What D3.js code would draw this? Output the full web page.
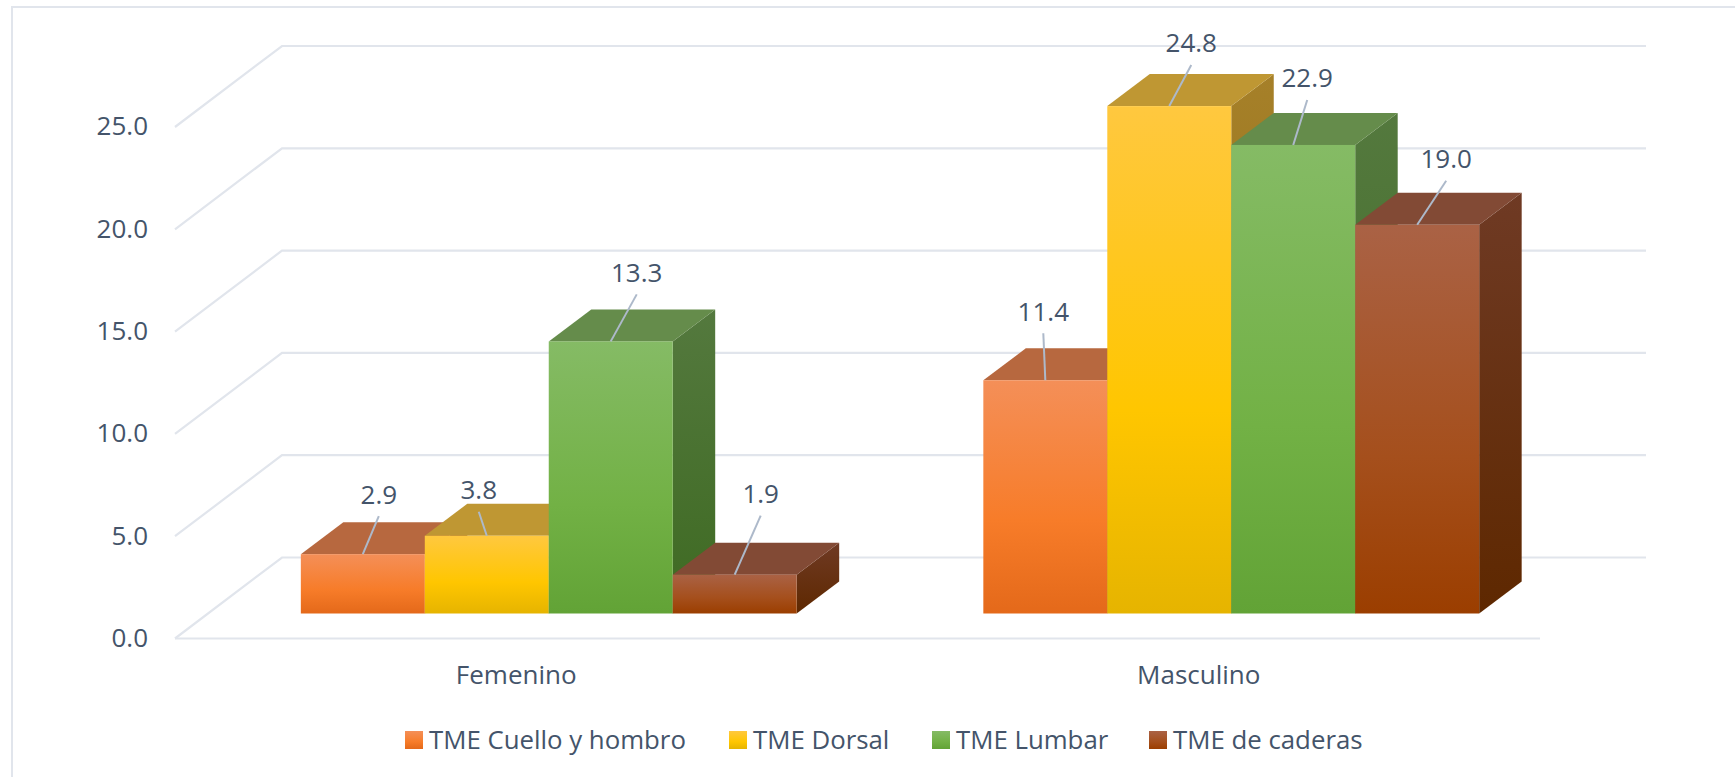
<!DOCTYPE html>
<html>
<head>
<meta charset="utf-8">
<script src="https://cdn.jsdelivr.net/npm/d3@7"></script>
<style>
  html, body { margin: 0; padding: 0; background: #fff; }
  svg { display: block; }
  text { font-family: "Open Sans", sans-serif; fill: #44546A; }
</style>
</head>
<body>
<svg id="chart" width="1735" height="777"></svg>
<script>
// Chart data
const categories = ["Femenino", "Masculino"];
const seriesNames = ["TME Cuello y hombro", "TME Dorsal", "TME Lumbar", "TME de caderas"];
const cuelloHombro = [2.9, 11.4];
const dorsal = [3.8, 24.8];
const lumbar = [13.3, 22.9];
const caderas = [1.9, 19.0];
const yTicks = [0, 5, 10, 15, 20, 25];

// Where each value label sits relative to the top centre of its bar, and the
// upper end of its leader line: one row per series, one [dx, dy, leaderDx, leaderDy] per category.
const labelPlacement = [
  [[16, -59, 16, -38], [-2, -68, -2, -47]],
  [[-8, -45, -8, -24], [22, -62, 22, -41]],
  [[26, -68, 26, -47], [14, -66, 14, -45]],
  [[26, -80, 26, -59], [29, -65, 29, -44]]
];

// Face shading per series
const seriesFaces = [
  { front: ["#F48F58", "#F77C29", "#E4691A"], top: "#B7683F", side: ["#A4592E", "#8A4A1E"] },
  { front: ["#FFC83F", "#FFC600", "#E6B400"], top: "#BF9733", side: ["#A68029", "#8A6C10"] },
  { front: ["#85BB65", "#72B145", "#62A336"], top: "#658C4B", side: ["#54793E", "#3E6A22"] },
  { front: ["#AA6245", "#A54F1C", "#9B3E00"], top: "#824A35", side: ["#6F3A24", "#5E2800"] }
];

const svg = d3.select("#chart");
const values = [cuelloHombro, dorsal, lumbar, caderas];

// Oblique projection of the 3-D plot box
const wallDepth = { dx: 107, dy: 81 };
const barDepth = { dx: 42.5, dy: 32 };
const floorX = d3.scaleBand().domain(categories).range([175, 1540]);
const seriesX = d3.scaleBand().domain(d3.range(seriesNames.length))
  .range([0, floorX.bandwidth() * 0.7265]);
const yFront = d3.scaleLinear().domain([0, 25]).range([638.5, 127]);
const barBase = yFront(0) - 25;
const barRise = v => yFront(0) - yFront(v);
const barShift = 32.5;

// Chart frame: only the top and left edges fall inside the page
svg.append("path")
  .attr("d", "M12,777V7H1735")
  .attr("fill", "none").attr("stroke", "#E1E5EC").attr("stroke-width", 2);

// Gradients for the bar faces and legend swatches
const defs = svg.append("defs");
seriesFaces.forEach((face, i) => {
  const front = defs.append("linearGradient").attr("id", `front${i}`)
    .attr("x1", 0).attr("y1", 0).attr("x2", 0).attr("y2", 1);
  [0, 0.6, 1].forEach((o, k) =>
    front.append("stop").attr("offset", o).attr("stop-color", face.front[k]));
  const side = defs.append("linearGradient").attr("id", `side${i}`)
    .attr("x1", 0).attr("y1", 0).attr("x2", 0).attr("y2", 1);
  [0, 1].forEach((o, k) =>
    side.append("stop").attr("offset", o).attr("stop-color", face.side[k]));
});

// Gridlines: slanted on the side wall, horizontal on the back wall
const grid = svg.append("g").attr("fill", "none").attr("stroke", "#E1E5EC").attr("stroke-width", 2.2);
grid.selectAll("path").data(yTicks).join("path")
  .attr("d", t => {
    const y = yFront(t);
    const x0 = floorX.range()[0];
    const x1 = x0 + wallDepth.dx;
    const xEnd = floorX.range()[1] + wallDepth.dx - 1;
    return `M${x0},${y}L${x1},${y - wallDepth.dy}H${xEnd}`;
  });
grid.append("path")
  .attr("d", `M${floorX.range()[0]},${yFront(0)}H${floorX.range()[1]}`);

// Value axis labels
svg.append("g").selectAll("text").data(yTicks).join("text")
  .attr("x", 148).attr("y", t => yFront(t) - 1)
  .attr("dy", "0.36em").attr("text-anchor", "end")
  .attr("font-size", 26)
  .text(d3.format(".1f"));

// Category labels
svg.append("g").selectAll("text").data(categories).join("text")
  .attr("x", c => floorX(c) + floorX.bandwidth() / 2).attr("y", 675)
  .attr("dy", "0.36em").attr("text-anchor", "middle")
  .attr("font-size", 26)
  .text(c => c);

// Bars
const barX = (c, s) =>
  floorX(c) + (floorX.bandwidth() - seriesX.range()[1]) / 2 + barShift + seriesX(s);

const bars = [];
categories.forEach((c, ci) => {
  seriesNames.forEach((name, si) => {
    bars.push({ c, ci, si, v: values[si][ci] });
  });
});

const barGroups = svg.append("g").selectAll("g").data(bars).join("g");
const w = seriesX.bandwidth();
const { dx, dy } = barDepth;

barGroups.append("path") // side face
  .attr("fill", d => `url(#side${d.si})`)
  .attr("d", d => {
    const x = barX(d.c, d.si) + w, top = barBase - barRise(d.v);
    return `M${x},${top}L${x + dx},${top - dy}V${barBase - dy}L${x},${barBase}Z`;
  });
barGroups.append("path") // top face
  .attr("fill", d => seriesFaces[d.si].top)
  .attr("d", d => {
    const x = barX(d.c, d.si), top = barBase - barRise(d.v);
    return `M${x},${top}L${x + dx},${top - dy}H${x + w + dx}L${x + w},${top}Z`;
  });
barGroups.append("rect") // front face
  .attr("fill", d => `url(#front${d.si})`)
  .attr("x", d => barX(d.c, d.si)).attr("width", w)
  .attr("y", d => barBase - barRise(d.v)).attr("height", d => barRise(d.v));

// Leader lines and value labels go over every bar
const labels = svg.append("g");
bars.forEach(d => {
  const cx = barX(d.c, d.si) + w / 2;
  const top = barBase - barRise(d.v);
  const [ldx, ldy, ex, ey] = labelPlacement[d.si][d.ci];
  labels.append("line")
    .attr("x1", cx).attr("y1", top).attr("x2", cx + ex).attr("y2", top + ey)
    .attr("stroke", "#ADB9CA").attr("stroke-width", 2);
  labels.append("text")
    .attr("x", cx + ldx).attr("y", top + ldy - 1)
    .attr("dy", "0.36em").attr("text-anchor", "middle")
    .attr("font-size", 26)
    .text(d.v.toFixed(1));
});

// Legend
const legendSwatchX = [405, 729, 932, 1149];
const legend = svg.append("g").selectAll("g").data(seriesNames).join("g")
  .attr("transform", (n, i) => `translate(${legendSwatchX[i]},731)`);
legend.append("rect").attr("width", 18).attr("height", 18)
  .attr("fill", (n, i) => `url(#front${i})`);
legend.append("text").attr("x", 24).attr("y", 9)
  .attr("dy", "0.36em").attr("font-size", 25.8)
  .text(n => n);
</script>
</body>
</html>
